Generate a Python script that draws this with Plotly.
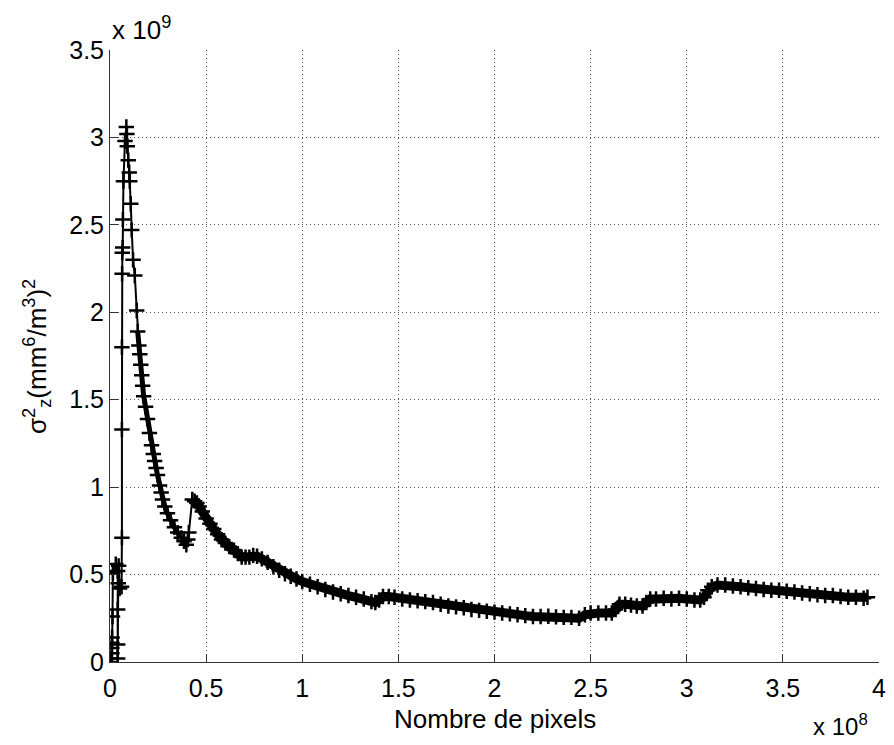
import plotly.graph_objects as go

# x in units of 1e8 pixels, y in units of 1e9 (mm^6/m^3)^2
x_vals = [
    0.005, 0.008, 0.010, 0.010, 0.010, 0.011, 0.013, 0.015, 0.030, 0.040,
    0.040, 0.040, 0.040, 0.043, 0.045, 0.050, 0.060, 0.062, 0.062, 0.062,
    0.063, 0.064, 0.066, 0.067, 0.070, 0.078, 0.085, 0.088, 0.090, 0.095,
    0.100, 0.103, 0.108, 0.113, 0.120, 0.129, 0.139, 0.144,
    0.150, 0.155, 0.160, 0.165, 0.170, 0.175, 0.185, 0.195, 0.205, 0.216,
    0.225, 0.232, 0.240, 0.247, 0.258, 0.266, 0.273, 0.285, 0.299, 0.315,
    0.335, 0.352, 0.371, 0.385, 0.397, 0.405, 0.410, 0.428, 0.440, 0.452,
    0.464, 0.480, 0.500, 0.520, 0.540, 0.560, 0.580, 0.600, 0.620, 0.645,
    0.665, 0.685, 0.705, 0.725, 0.745, 0.765, 0.790, 0.820, 0.850, 0.880,
    0.910, 0.940, 0.970, 1.000, 1.040, 1.080, 1.120, 1.160, 1.200, 1.240,
    1.280, 1.320, 1.360, 1.380, 1.400, 1.420, 1.450, 1.480, 1.520, 1.560,
    1.600, 1.640, 1.680, 1.720, 1.760, 1.800, 1.840, 1.880, 1.920, 1.960,
    2.000, 2.040, 2.080, 2.120, 2.160, 2.200, 2.240, 2.280, 2.320, 2.360,
    2.400, 2.440, 2.470, 2.500, 2.540, 2.580, 2.610, 2.630, 2.650, 2.680,
    2.710, 2.740, 2.770, 2.790, 2.810, 2.840, 2.880, 2.920, 2.960, 3.000,
    3.040, 3.070, 3.090, 3.110, 3.130, 3.160, 3.200, 3.240, 3.280, 3.320,
    3.360, 3.400, 3.440, 3.480, 3.520, 3.560, 3.600, 3.640, 3.680, 3.720,
    3.760, 3.800, 3.840, 3.880, 3.920, 3.940,
]
y_vals = [
    0.00, 0.02, 0.05, 0.08, 0.11, 0.14, 0.26, 0.51, 0.56, 0.52,
    0.30, 0.10, 0.02, 0.45, 0.55, 0.42, 0.43, 0.71, 1.33, 1.80,
    2.22, 2.34, 2.37, 2.53, 2.75, 2.98, 3.06, 3.02, 2.95, 2.87,
    2.80, 2.75, 2.62, 2.47, 2.30, 2.21, 2.01, 1.89,
    1.81, 1.76, 1.70, 1.64, 1.58, 1.52, 1.46, 1.39, 1.31, 1.24,
    1.19, 1.15, 1.11, 1.07, 1.01, 0.97, 0.93, 0.89, 0.85, 0.81,
    0.77, 0.74, 0.71, 0.69, 0.67, 0.70, 0.74, 0.93, 0.92, 0.91,
    0.89, 0.86, 0.82, 0.79, 0.76, 0.73, 0.70, 0.68, 0.66, 0.64,
    0.62, 0.60, 0.60, 0.60, 0.61, 0.605, 0.59, 0.57, 0.545, 0.525,
    0.505, 0.49, 0.475, 0.46, 0.445, 0.43, 0.415, 0.40, 0.39, 0.38,
    0.37, 0.36, 0.345, 0.34, 0.355, 0.375, 0.375, 0.37, 0.36, 0.355,
    0.35, 0.345, 0.34, 0.33, 0.32, 0.315, 0.31, 0.30, 0.295, 0.29,
    0.285, 0.28, 0.275, 0.27, 0.265, 0.26, 0.26, 0.262, 0.258, 0.255,
    0.255, 0.25, 0.27, 0.28, 0.28, 0.28, 0.28, 0.30, 0.33, 0.33,
    0.325, 0.32, 0.32, 0.34, 0.36, 0.36, 0.365, 0.36, 0.365, 0.36,
    0.355, 0.355, 0.37, 0.41, 0.43, 0.44, 0.44, 0.435, 0.43, 0.425,
    0.42, 0.415, 0.41, 0.41, 0.405, 0.40, 0.395, 0.39, 0.385, 0.38,
    0.38, 0.375, 0.37, 0.37, 0.365, 0.37,
]

x_ticks = [0, 0.5, 1, 1.5, 2, 2.5, 3, 3.5, 4]
x_ticktext = ["0", "0.5", "1", "1.5", "2", "2.5", "3", "3.5", "4"]
y_ticks = [0, 0.5, 1, 1.5, 2, 2.5, 3, 3.5]
y_ticktext = ["0", "0.5", "1", "1.5", "2", "2.5", "3", "3.5"]

FONT = "Liberation Sans, Arial, Helvetica, sans-serif"

# dense stretches of the record, where markers merge into a solid band
mid_idx = [i for i, x in enumerate(x_vals) if 0.144 <= x <= 0.397]
dense_idx = [i for i, x in enumerate(x_vals) if x >= 0.428]

fig = go.Figure()
fig.add_trace(go.Scatter(
    x=[x_vals[i] for i in mid_idx], y=[y_vals[i] for i in mid_idx],
    mode="lines", line=dict(color="black", width=5),
    showlegend=False, hoverinfo="skip",
))
fig.add_trace(go.Scatter(
    x=[x_vals[i] for i in dense_idx], y=[y_vals[i] for i in dense_idx],
    mode="lines", line=dict(color="black", width=9),
    showlegend=False, hoverinfo="skip",
))
fig.add_trace(go.Scatter(
    x=x_vals, y=y_vals, mode="lines+markers",
    line=dict(color="black", width=2),
    marker=dict(symbol="cross-thin", size=11, color="black",
                line=dict(color="black", width=2.5)),
    showlegend=False, hoverinfo="skip",
))

axis_common = dict(
    showgrid=True, gridcolor="#555555", griddash="1px,3px", gridwidth=1,
    zeroline=False, showline=True, linecolor="#333333", linewidth=1,
    ticks="inside", ticklen=8, tickcolor="#333333", tickwidth=1,
    tickfont=dict(family=FONT, size=25, color="black"),
    mirror=False,
)

fig.update_layout(
    width=894, height=745,
    margin=dict(l=110, r=8, t=50, b=83),
    paper_bgcolor="white", plot_bgcolor="white",
    font=dict(family=FONT, color="black"),
    xaxis=dict(range=[0, 4], tickvals=x_ticks, ticktext=x_ticktext,
               ticklabelstandoff=4, **axis_common),
    yaxis=dict(range=[0, 3.5], tickvals=y_ticks, ticktext=y_ticktext, **axis_common),
    annotations=[
        dict(text="Nombre de pixels", xref="paper", yref="paper", x=0.5, y=-0.093,
             xanchor="center", yanchor="middle", showarrow=False,
             font=dict(family=FONT, size=26, color="black")),
        dict(text="σ<sup>2</sup><sub>z</sub>(mm<sup>6</sup>/m<sup>3</sup>)<sup>2</sup>",
             xref="paper", yref="paper", x=-0.095, y=0.5, textangle=-90,
             xanchor="center", yanchor="middle", showarrow=False,
             font=dict(family=FONT, size=26, color="black")),
        dict(text="x 10<sup>9</sup>", xref="paper", yref="paper", x=0.0, y=1.035,
             xanchor="left", yanchor="middle", showarrow=False,
             font=dict(family=FONT, size=26, color="black")),
        dict(text="x 10<sup>8</sup>", xref="paper", yref="paper", x=0.988, y=-0.13,
             xanchor="right", yanchor="bottom", showarrow=False,
             font=dict(family=FONT, size=24, color="black")),
    ],
)

fig.write_html("out.html")
